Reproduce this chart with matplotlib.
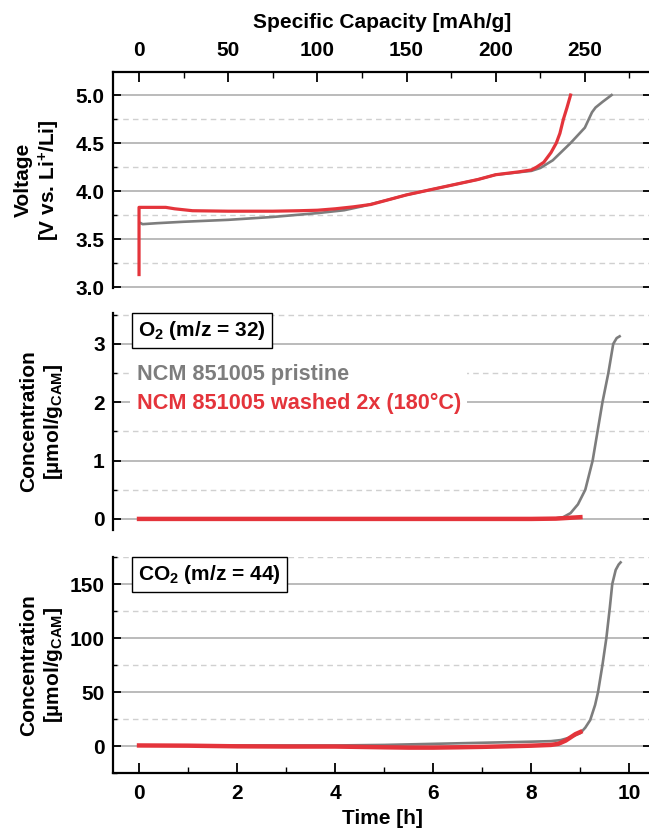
import matplotlib
matplotlib.use('Agg')
import matplotlib.pyplot as plt
from matplotlib.lines import Line2D
from matplotlib.ticker import MultipleLocator

plt.rcParams['font.family'] = ['Liberation Sans', 'DejaVu Sans']
plt.rcParams['font.weight'] = 'bold'
plt.rcParams['axes.labelweight'] = 'bold'
plt.rcParams['font.size'] = 15
plt.rcParams['mathtext.fontset'] = 'custom'
plt.rcParams['mathtext.rm'] = 'Liberation Sans:bold'
plt.rcParams['mathtext.bf'] = 'Liberation Sans:bold'
plt.rcParams['mathtext.it'] = 'Liberation Sans:bold'

GRAY = '#7d7d7d'
RED = '#e4343b'

# voltage profile vs specific capacity
cap_pristine = [1, 2, 10, 25, 50, 75, 100, 115, 125, 140, 150, 165, 175, 190, 200, 210,
                220, 225, 232, 242, 250, 254, 256, 260, 265]
volt_pristine = [3.665, 3.655, 3.665, 3.68, 3.70, 3.73, 3.77, 3.80, 3.84, 3.91, 3.96, 4.02,
                 4.06, 4.12, 4.17, 4.19, 4.21, 4.24, 4.32, 4.50, 4.66, 4.82, 4.87, 4.93, 5.0]
cap_washed = [0, 0, 5, 15, 20, 30, 50, 75, 90, 100, 110, 120, 130, 140, 150, 165, 175, 190,
              200, 213, 220, 223, 227, 231, 234, 236, 238, 240, 242]
volt_washed = [3.13, 3.83, 3.83, 3.83, 3.815, 3.795, 3.79, 3.79, 3.795, 3.80, 3.815, 3.835,
               3.86, 3.91, 3.96, 4.02, 4.06, 4.12, 4.17, 4.20, 4.22, 4.25, 4.30, 4.40, 4.50,
               4.60, 4.75, 4.87, 5.0]

# O2 (m/z = 32)
t_o2_pristine = [0, 2, 4, 6, 8, 8.5, 8.65, 8.8, 8.95, 9.1, 9.25, 9.35, 9.45, 9.57, 9.67, 9.74, 9.8]
o2_pristine = [0, 0, 0, 0, 0.005, 0.01, 0.03, 0.1, 0.25, 0.5, 1.0, 1.5, 2.0, 2.5, 3.0, 3.1, 3.13]
t_o2_washed = [0, 2, 4, 6, 8, 8.5, 8.8, 9.0]
o2_washed = [0, 0, 0, 0, 0, 0.005, 0.02, 0.03]

# CO2 (m/z = 44)
t_co2_pristine = [0, 1, 2, 3, 4, 5, 6, 7, 8, 8.4, 8.6, 8.8, 9.0, 9.1, 9.2, 9.3, 9.36, 9.45,
                  9.53, 9.6, 9.65, 9.72, 9.78, 9.82]
co2_pristine = [0.5, 0.5, 0.5, 0.5, 0.5, 1.0, 2.0, 3.0, 4.0, 4.5, 5.5, 8, 12, 17, 24, 38, 50,
                75, 100, 128, 150, 163, 168, 170]
t_co2_washed = [0, 1, 2, 3, 4, 5, 5.5, 6, 6.5, 7, 7.5, 8, 8.4, 8.55, 8.7, 8.8, 8.9, 9.0]
co2_washed = [0.5, 0.3, -0.3, -0.5, -0.5, -1.2, -1.5, -1.5, -1.2, -0.8, -0.3, 0.3, 1.0, 2.0,
              5, 8, 11, 13]

legend_labels = ['NCM 851005 pristine', 'NCM 851005 washed 2x (180°C)']

W, H = 649, 831
tmin, tmax = -0.531, 10.44
cap_per_h = 27.5

fig = plt.figure(figsize=(W / 100, H / 100), dpi=100)


def box(top, bottom):
    return [113 / W, 1 - bottom / H, (651 - 113) / W, (bottom - top) / H]


ax1 = fig.add_axes(box(72, 288))
ax2 = fig.add_axes(box(313, 530))
ax3 = fig.add_axes(box(557, 773))


def grid(ax, major, minor):
    ax.yaxis.set_major_locator(MultipleLocator(major))
    ax.yaxis.set_minor_locator(MultipleLocator(minor))
    ax.grid(axis='y', which='major', color='#a8a8a8', lw=1.1, zorder=0)
    ax.grid(axis='y', which='minor', color='#d0d0d0', lw=1.0, ls=(0, (4, 3)), zorder=0)
    ax.set_axisbelow(True)
    for s in ax.spines.values():
        s.set_linewidth(1.6)
    ax.tick_params(axis='y', which='major', direction='in', length=6, width=1.3, pad=6,
                   left=True, right=True, labelsize=15)
    ax.tick_params(axis='y', which='minor', direction='in', length=3, width=1.0,
                   left=True, right=False)


# voltage panel
ax1.plot(cap_pristine, volt_pristine, color=GRAY, lw=1.9, zorder=3)
ax1.plot(cap_washed, volt_washed, color=RED, lw=2.3, zorder=4)
ax1.set_xlim(tmin * cap_per_h, tmax * cap_per_h)
ax1.set_ylim(2.99, 5.24)
grid(ax1, 0.5, 0.25)
ax1.yaxis.set_major_formatter(matplotlib.ticker.FormatStrFormatter('%.1f'))
ax1.spines['bottom'].set_visible(False)
ax1.xaxis.set_major_locator(MultipleLocator(50))
ax1.xaxis.set_minor_locator(MultipleLocator(25))
ax1.xaxis.set_ticks_position('top')
ax1.xaxis.set_label_position('top')
ax1.tick_params(axis='x', which='major', direction='in', length=7, width=1.3, pad=9, labelsize=15)
ax1.tick_params(axis='x', which='minor', direction='in', length=4, width=1.0)
ax1.set_xlabel('Specific Capacity [mAh/g]', labelpad=9)
ax1.set_ylabel('Voltage\n[V vs. Li$^{+}$/Li]', multialignment='center')
ax1.yaxis.set_label_coords(-0.095, 0.5)

# O2 panel
ax2.plot(t_o2_pristine, o2_pristine, color=GRAY, lw=1.9, zorder=3)
ax2.plot(t_o2_washed, o2_washed, color=RED, lw=3.2, zorder=4)
ax2.set_xlim(tmin, tmax)
ax2.set_ylim(-0.19, 3.53)
grid(ax2, 1, 0.5)
ax2.spines['top'].set_visible(False)
ax2.spines['bottom'].set_visible(False)
ax2.tick_params(axis='x', which='both', bottom=False, top=False, labelbottom=False)
ax2.set_ylabel('Concentration\n[µmol/g$_{\\mathrm{CAM}}$]', multialignment='center')
ax2.yaxis.set_label_coords(-0.09, 0.5)
ax2.text(0.047, 0.972, 'O$_{2}$ (m/z = 32)', transform=ax2.transAxes, ha='left', va='top',
         fontsize=15, zorder=6,
         bbox=dict(boxstyle='square,pad=0.3', fc='white', ec='black', lw=1.0))
handles = [Line2D([], [], color=GRAY), Line2D([], [], color=RED)]
leg = ax2.legend(handles, legend_labels, loc='upper left', bbox_to_anchor=(0.032, 0.795),
                 frameon=True, fancybox=False, edgecolor='none', framealpha=1,
                 handlelength=0, handletextpad=0, labelspacing=0.38, borderpad=0.3,
                 borderaxespad=0, fontsize=15.6, labelcolor=[GRAY, RED])
leg.set_zorder(5)

# CO2 panel
ax3.plot(t_co2_pristine, co2_pristine, color=GRAY, lw=1.9, zorder=3)
ax3.plot(t_co2_washed, co2_washed, color=RED, lw=3.2, zorder=4)
ax3.set_xlim(tmin, tmax)
ax3.set_ylim(-25, 175)
grid(ax3, 50, 25)
ax3.spines['top'].set_visible(False)
ax3.xaxis.set_major_locator(MultipleLocator(2))
ax3.xaxis.set_minor_locator(MultipleLocator(1))
ax3.tick_params(axis='x', which='major', direction='in', length=7, width=1.3, pad=8,
                top=False, labelsize=15)
ax3.tick_params(axis='x', which='minor', direction='in', length=4, width=1.0, top=False)
ax3.set_xlabel('Time [h]', labelpad=4)
ax3.set_ylabel('Concentration\n[µmol/g$_{\\mathrm{CAM}}$]', multialignment='center')
ax3.yaxis.set_label_coords(-0.09, 0.5)
ax3.text(0.047, 0.972, 'CO$_{2}$ (m/z = 44)', transform=ax3.transAxes, ha='left', va='top',
         fontsize=15, zorder=6,
         bbox=dict(boxstyle='square,pad=0.3', fc='white', ec='black', lw=1.0))

fig.savefig('out.png', dpi=100)
